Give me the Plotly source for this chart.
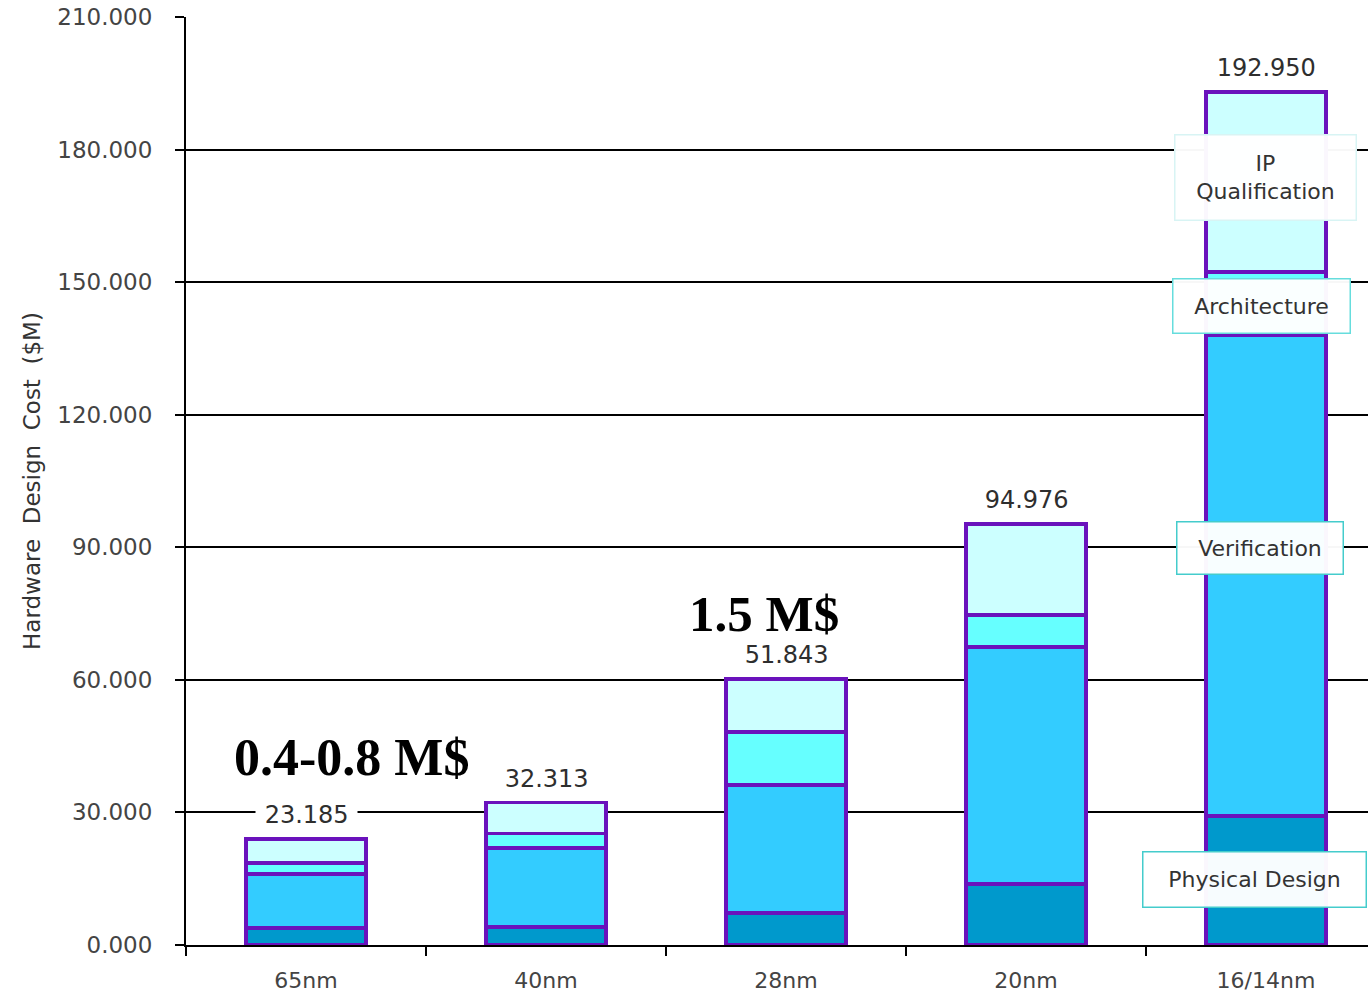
import plotly.graph_objects as go

nodes = ["65nm", "40nm", "28nm", "20nm", "16/14nm"]
physical_design = [3.9, 4.1, 7.2, 13.8, 29.2]
verification = [12.2, 17.9, 29.0, 53.6, 108.8]
architecture = [2.5, 3.2, 12.0, 7.3, 14.3]
ip_qualification = [5.4, 7.0, 12.0, 20.6, 40.7]
total_labels = ["23.185", "32.313", "51.843", "94.976", "192.950"]
y_ticks = [0, 30, 60, 90, 120, 150, 180, 210]

series = [
    ("Physical Design", physical_design, "#0099CC"),
    ("Verification", verification, "#33CCFF"),
    ("Architecture", architecture, "#66FFFF"),
    ("IP Qualification", ip_qualification, "#CCFFFF"),
]

fig = go.Figure()
for name, vals, col in series:
    fig.add_trace(go.Bar(
        x=nodes, y=vals, name=name, width=0.5,
        marker=dict(color=col, line=dict(color="#6A12BC", width=3.5)),
        showlegend=False,
    ))

totals = [sum(v) for v in zip(physical_design, verification, architecture, ip_qualification)]
annotations = []
for n, t, lab in zip(nodes, totals, total_labels):
    annotations.append(dict(x=n, y=t, text="\u00a0" + lab + "\u00a0", showarrow=False, yshift=24,
                            xanchor="center", yanchor="middle",
                            bgcolor="white", borderpad=1,
                            font=dict(family="DejaVu Sans", size=24, color="#2e2e2e")))

# big remarks
annotations.append(dict(x=0.19, y=42.5, xref="x", yref="y", text="<b>0.4-0.8 M$</b>", showarrow=False,
                        xanchor="center", yanchor="middle",
                        font=dict(family="Liberation Serif", size=52, color="#000000")))
annotations.append(dict(x=1.908, y=75.0, xref="x", yref="y", text="<b>1.5 M$</b>", showarrow=False,
                        xanchor="center", yanchor="middle",
                        font=dict(family="Liberation Serif", size=51, color="#000000")))

# series label boxes on the last bar
boxes = [
    ("IP<br>Qualification", 3.996, 173.6, 176, 80, "#D8F4F4"),
    ("Architecture", 3.98, 144.5, 172, 49, "#66DDDD"),
    ("Verification", 3.975, 89.8, 161, 47, "#44CCCC"),
    ("Physical Design", 3.954, 14.9, 218, 50, "#44CCCC"),
]
for txt, bx, by, w, h, bc in boxes:
    annotations.append(dict(x=bx, y=by, xref="x", yref="y", text=txt, showarrow=False,
                            xanchor="center", yanchor="middle", width=w, height=h,
                            bgcolor="rgba(255,255,255,0.97)", bordercolor=bc, borderwidth=1.5, borderpad=2,
                            font=dict(family="DejaVu Sans", size=22, color="#333333")))

fig.update_layout(
    barmode="stack",
    width=1368, height=993,
    margin=dict(l=186, r=0, t=17, b=48, autoexpand=False),
    plot_bgcolor="white", paper_bgcolor="white",
    annotations=annotations,
    font=dict(family="DejaVu Sans", color="#444444"),
)
fig.update_xaxes(
    range=[-0.5, 4.425], showline=True, linecolor="black", linewidth=2,
    ticks="outside", tickson="boundaries", ticklen=9, tickwidth=2, tickcolor="black",
    showgrid=False, tickfont=dict(family="DejaVu Sans", size=22, color="#444444"),
    ticklabelstandoff=15,
)
fig.update_yaxes(
    range=[0, 210], tickvals=y_ticks, ticktext=[f"{v:.3f}" for v in y_ticks],
    showline=True, linecolor="black", linewidth=2, zeroline=False,
    showgrid=True, gridcolor="black", gridwidth=2,
    ticks="outside", ticklen=9, tickwidth=2, tickcolor="black",
    tickfont=dict(family="DejaVu Sans", size=23, color="#444444"),
    ticklabelstandoff=18,
    title=dict(text="Hardware  Design  Cost  ($M)", standoff=10,
               font=dict(family="DejaVu Sans", size=23, color="#333333")),
)

fig.write_html("out.html")
